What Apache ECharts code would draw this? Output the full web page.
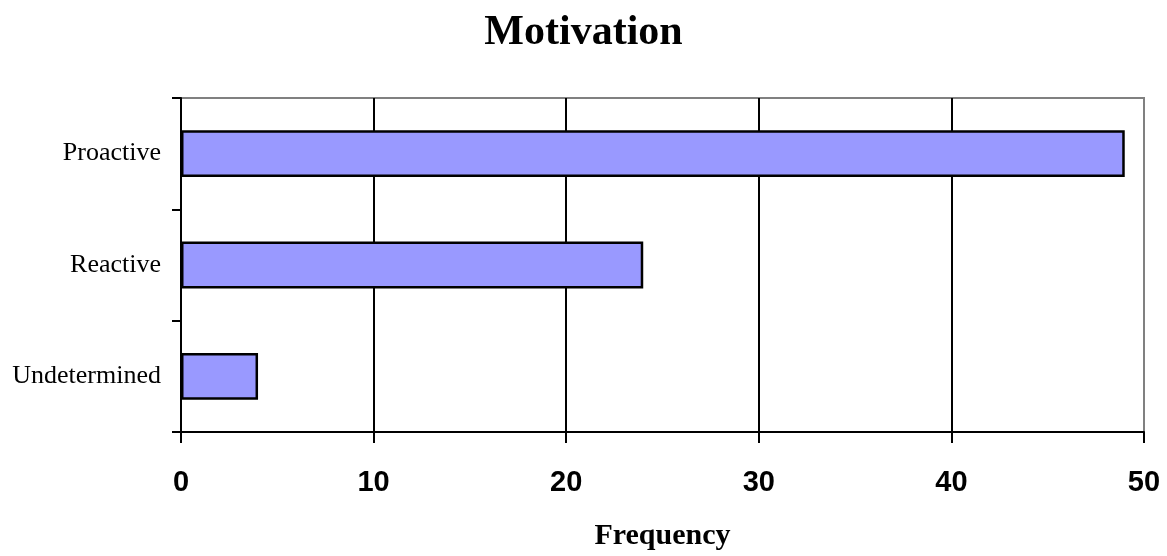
<!DOCTYPE html>
<html>
<head>
<meta charset="utf-8">
<script src="https://cdn.jsdelivr.net/npm/echarts@6/dist/echarts.min.js"></script>
<style>
  html, body { margin: 0; padding: 0; background: #ffffff; }
  #chart { width: 1167px; height: 556px; }
</style>
</head>
<body>
<div id="chart"></div>
<script>
// Motivation categories and their frequencies
const categories = ['Proactive', 'Reactive', 'Undetermined'];
const frequencies = [49, 24, 4];
const xTicks = [0, 10, 20, 30, 40, 50];

const chart = echarts.init(document.getElementById('chart'), null, { renderer: 'canvas' });

chart.setOption({
  backgroundColor: '#ffffff',
  animation: false,
  title: {
    text: 'Motivation',
    left: 'center',
    top: 12,
    padding: 0,
    textStyle: {
      fontFamily: '"Liberation Serif", "Times New Roman", serif',
      fontWeight: 'bold',
      fontSize: 42,
      color: '#000000'
    }
  },
  grid: {
    left: 181,
    right: 23,
    top: 98,
    bottom: 121,
    show: true,
    borderColor: '#808080',
    borderWidth: 2,
    backgroundColor: '#ffffff'
  },
  xAxis: {
    type: 'value',
    min: xTicks[0],
    max: xTicks[xTicks.length - 1],
    interval: 10,
    name: 'Frequency',
    nameLocation: 'middle',
    nameGap: 89,
    nameTextStyle: {
      fontFamily: '"Liberation Serif", "Times New Roman", serif',
      fontWeight: 'bold',
      fontSize: 30,
      color: '#000000'
    },
    axisLine: { show: true, lineStyle: { color: '#000000', width: 2 } },
    axisTick: { show: true, length: 11, lineStyle: { color: '#000000', width: 2 } },
    axisLabel: {
      margin: 36,
      fontFamily: '"Liberation Sans", Arial, sans-serif',
      fontWeight: 'bold',
      fontSize: 29,
      color: '#000000'
    },
    splitLine: {
      show: true,
      showMinLine: false,
      showMaxLine: false,
      lineStyle: { color: '#000000', width: 2 }
    }
  },
  yAxis: {
    type: 'category',
    data: categories,
    inverse: true,
    axisLine: { show: true, lineStyle: { color: '#000000', width: 2 } },
    axisTick: { show: true, length: 9, lineStyle: { color: '#000000', width: 2 } },
    axisLabel: {
      margin: 20,
      fontFamily: '"Liberation Serif", "Times New Roman", serif',
      fontSize: 26,
      color: '#000000'
    },
    splitLine: { show: false }
  },
  series: [{
    type: 'bar',
    data: frequencies,
    barCategoryGap: '58%',
    itemStyle: {
      color: '#9999ff',
      borderColor: '#000000',
      borderWidth: 2.5
    }
  }]
});
</script>
</body>
</html>
